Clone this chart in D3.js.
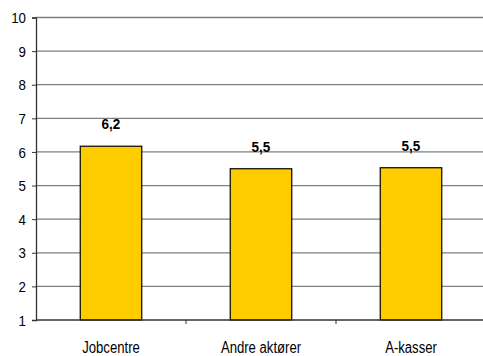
<!DOCTYPE html>
<html><head><meta charset="utf-8">
<script src="https://cdn.jsdelivr.net/npm/d3@7"></script>
<style>
html,body{margin:0;padding:0;background:#fff;}
svg{display:block;}
text{font-family:"Liberation Sans",Arial,sans-serif;}
</style></head>
<body>
<script>
const categories = ["Jobcentre", "Andre aktører", "A-kasser"];
const values = [6.17, 5.5, 5.53];
const valueLabels = ["6,2", "5,5", "5,5"];
const yTicks = [1, 2, 3, 4, 5, 6, 7, 8, 9, 10];

const W = 483, H = 356;
const svg = d3.select("body").append("svg").attr("width", W).attr("height", H);

const x = d3.scaleBand().domain(categories).range([36, 486]).paddingInner(0.59).paddingOuter(0.295);
const y = d3.scaleLinear().domain([1, 10]).range([320, 17.5]);

// gridlines
svg.append("g").selectAll("line").data(yTicks.filter(d => d > 1)).join("line")
  .attr("x1", 36).attr("x2", 483)
  .attr("y1", d => y(d)).attr("y2", d => y(d))
  .attr("stroke", "#7f7f7f").attr("stroke-width", 1.3);

// y axis
const tsx = 0.92;
const yAxis = d3.axisLeft(y).tickValues(yTicks).tickSize(4).tickPadding(6).tickFormat(d3.format("d"));
const gy = svg.append("g").attr("transform", "translate(36,0)").call(yAxis);
gy.select(".domain").attr("stroke", "#333").attr("stroke-width", 1.3);
gy.selectAll(".tick line").attr("stroke", "#333");
gy.selectAll(".tick text").attr("font-size", 14.5).attr("fill", "#000")
  .attr("font-family", "'Liberation Sans', Arial, sans-serif")
  .attr("x", -10 / tsx).attr("dy", "0.35em")
  .attr("transform", `scale(${tsx},1)`);

// bars
svg.append("g").selectAll("rect").data(values).join("rect")
  .attr("x", (d, i) => x(categories[i]))
  .attr("width", x.bandwidth())
  .attr("y", d => y(d))
  .attr("height", d => y(1) - y(d))
  .attr("fill", "#FFCC00").attr("stroke", "#000").attr("stroke-width", 1.2);

// x axis
const xb = d3.scaleLinear().domain([0, 3]).range([36, 486]);
const gx = svg.append("g").attr("transform", `translate(0,${y(1)})`);
gx.append("line").attr("x1", 36).attr("x2", 483).attr("y1", 0).attr("y2", 0)
  .attr("stroke", "#333").attr("stroke-width", 1.3);
gx.selectAll("line.tk").data([1, 2]).join("line").attr("class", "tk")
  .attr("x1", d => xb(d)).attr("x2", d => xb(d)).attr("y1", 0).attr("y2", 4)
  .attr("stroke", "#333");
gx.selectAll("text").data(categories).join("text")
  .attr("transform", d => `translate(${x(d) + x.bandwidth() / 2},32.5) scale(0.82,1)`)
  .attr("text-anchor", "middle").attr("font-size", 16).attr("fill", "#000")
  .text(d => d);

// value labels
svg.append("g").selectAll("text").data(values).join("text")
  .attr("transform", (d, i) => `translate(${x(categories[i]) + x.bandwidth() / 2},${y(d) - 17}) scale(0.93,1)`)
  .attr("text-anchor", "middle").attr("font-size", 14.5).attr("font-weight", "bold")
  .attr("fill", "#000")
  .text((d, i) => valueLabels[i]);
</script>
</body></html>
